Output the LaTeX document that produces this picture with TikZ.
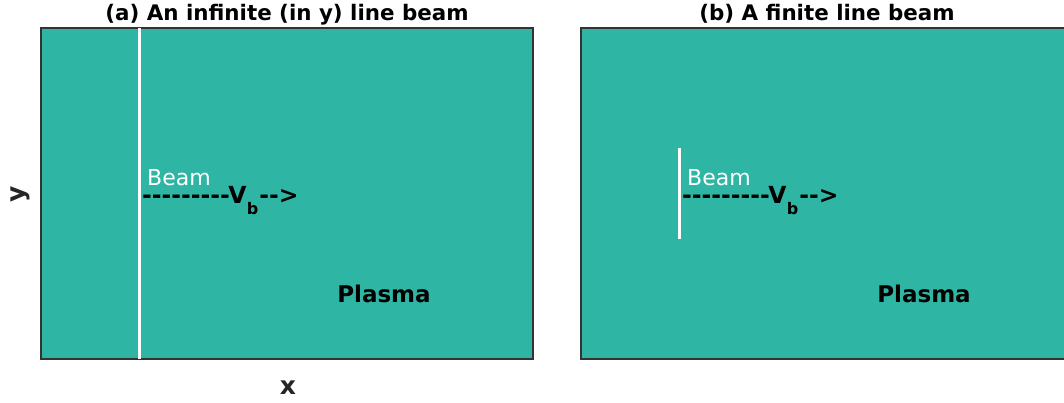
\documentclass[tikz,border=0pt]{standalone}
\usepackage{fontspec}
\setmainfont{DejaVu Sans}[Ligatures=TeXOff]
\definecolor{plasma}{RGB}{46,181,164}
\definecolor{frame}{RGB}{51,51,51}
\definecolor{axislab}{RGB}{38,38,38}
\tikzset{
  panel/.style={fill=plasma,draw=frame,line width=2pt},
  beamline/.style={draw=white,line width=3.5pt},
  titletext/.style={font=\fontsize{21.4}{24}\selectfont\bfseries,anchor=base,inner sep=0pt},
  beamtext/.style={font=\fontsize{22}{24}\selectfont,text=white,anchor=base west,inner sep=0pt},
  arrowtext/.style={font=\fontsize{23.5}{26}\selectfont\bfseries,text=black,anchor=base west,inner sep=0pt},
  plasmatext/.style={font=\fontsize{23}{26}\selectfont\bfseries,text=black,anchor=base,inner sep=0pt},
  axistext/.style={font=\fontsize{25}{28}\selectfont\bfseries,text=axislab,inner sep=0pt},
}
\newcommand{\vbarrow}{-{}-{}-{}-{}-{}-{}-{}-{}-V\kern0.5pt\raisebox{-11pt}{\fontsize{16}{17}\selectfont b}\kern1pt-{}->}
\begin{document}
\begin{tikzpicture}[x=1pt,y=-1pt]
\useasboundingbox (0,0) rectangle (1064,402);
\begin{scope}
\clip (0,0) rectangle (1064,402);
% panel (a)
\path[panel] (41,28) rectangle (533,359);
\coordinate (a top) at (139.5,28);
\coordinate (a bot) at (139.5,359);
\draw[beamline] (a top) -- (a bot);
\node[titletext] (ta) at (287,20) {(a) An infinite (in y) line beam};
\node[beamtext] (beama) at (147,185) {Beam};
\node[arrowtext] (va) at (142,203) {\vbarrow};
\node[plasmatext] (pa) at (384,302) {Plasma};
% panel (b)
\path[panel] (581,28) rectangle (1073,359);
\coordinate (b top) at (679.5,148);
\coordinate (b bot) at (679.5,239);
\draw[beamline] (b top) -- (b bot);
\node[titletext] (tb) at (827,20) {(b) A finite line beam};
\node[beamtext] (beamb) at (687,185) {Beam};
\node[arrowtext] (vb) at (682,203) {\vbarrow};
\node[plasmatext] (pb) at (924,302) {Plasma};
% axis labels
\node[axistext,rotate=90] (ylab) at (20,194) {y};
\node[axistext] (xlab) at (288,388) {x};
\end{scope}
\end{tikzpicture}
\end{document}
